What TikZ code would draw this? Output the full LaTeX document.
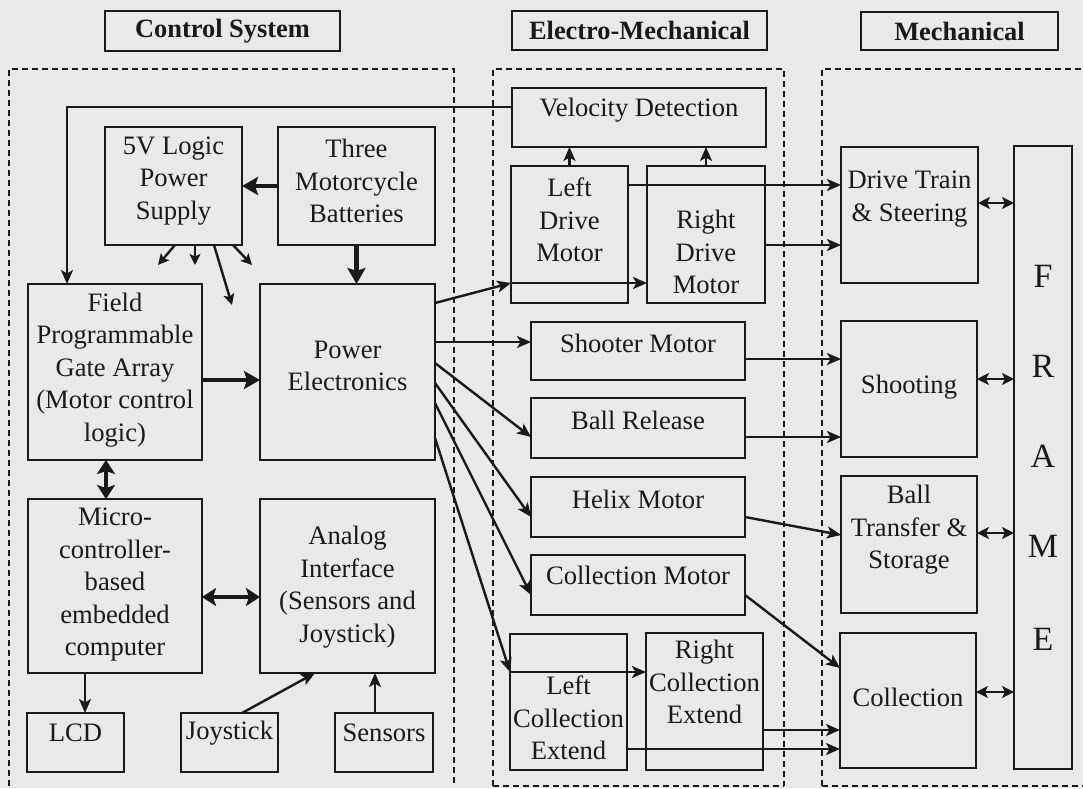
\documentclass[tikz,border=0pt]{standalone}
\usepackage{fontspec}
\setmainfont{Liberation Serif}
\usetikzlibrary{arrows.meta}
\definecolor{paper}{RGB}{233,233,233}
\definecolor{ink}{RGB}{25,25,25}
\newcommand\blk[5]{%
  \pgfmathsetmacro\bw{#4-#2}\pgfmathsetmacro\bh{#5-#3}%
  \node[box, minimum width=\bw pt, minimum height=\bh pt, anchor=north west] (#1) at (#2,#3) {};}
\begin{document}
\begin{tikzpicture}[x=1pt,y=-1pt, color=ink,
  box/.style={draw=ink, line width=2.6pt, rectangle, inner sep=0pt, outer sep=0pt},
  txt/.style={align=center, inner sep=0pt, text=ink, yshift=-2pt, font=\fontsize{26.6}{32.5}\selectfont},
  ttl/.style={draw=ink, line width=2.6pt, inner sep=0pt, text=ink, font=\fontsize{26.4}{32}\selectfont\bfseries},
  big/.style={inner sep=0pt, text=ink, anchor=base, font=\fontsize{34}{40}\selectfont},
  region/.style={draw=ink, line width=1.5pt, dash pattern=on 6pt off 4pt},
  arr/.style={draw=ink, line width=2.4pt, -{Stealth[length=14pt,width=12pt,inset=3.5pt]}},
  darr/.style={draw=ink, line width=2.4pt, {Stealth[length=12pt,width=12pt,inset=3pt]}-{Stealth[length=12pt,width=12pt,inset=3pt]}},
  sarr/.style={draw=ink, line width=2.4pt, -{Stealth[length=11pt,width=11pt,inset=2.5pt]}},
  fat/.style={draw=ink, line width=4.8pt, -{Stealth[length=16pt,width=18pt,inset=3pt]}},
  fatd/.style={draw=ink, line width=4.8pt, {Stealth[length=14pt,width=18pt,inset=3pt]}-{Stealth[length=14pt,width=18pt,inset=3pt]}}
]
\fill[paper] (0,0) rectangle (1083,788);
\useasboundingbox (0,0) rectangle (1083,788);

% titles
\node[ttl, minimum width=235pt, minimum height=40pt] (tCS) at (222.5,31) {Control System};
\node[ttl, minimum width=255pt, minimum height=39pt] (tEM) at (639.5,30.5) {Electro-Mechanical};
\node[ttl, minimum width=197pt, minimum height=38pt] (tM) at (959.5,31) {Mechanical};

% regions
\draw[region] (9,786) -- (9,69) -- (454,69) -- (454,786);
\draw[region] (493,786) -- (493,69) -- (784,69) -- (784,786);
\draw[region] (493,786) -- (784,786);
\draw[region] (822,786) -- (822,69) -- (1095,69);
\draw[region] (822,786) -- (1095,786);

% control system blocks
\blk{PS5}{105}{127}{242}{245}
\blk{TMB}{278}{127}{435}{245}
\blk{FPGA}{28}{284}{202}{460}
\blk{PE}{260}{284}{435}{460}
\blk{MC}{28}{499}{202}{673}
\blk{AI}{260}{499}{435}{673}
\blk{LCD}{27}{713}{124}{772}
\blk{JOY}{181}{713}{278}{772}
\blk{SEN}{335}{713}{433}{772}
\node[txt] (PS5t) at (173.5,179) {5V Logic\\Power\\Supply};
\node[txt] (TMBt) at (356.5,179) {Three\\Motorcycle\\Batteries};
\node[txt] (FPGAt) at (115,368) {Field\\Programmable\\Gate Array\\(Motor control\\logic)};
\node[txt] (PEt) at (347.5,364) {Power\\Electronics};
\node[txt] (MCt) at (115,583) {Micro-\\controller-\\based\\embedded\\computer};
\node[txt] (AIt) at (347.5,585) {Analog\\Interface\\(Sensors and\\Joystick)};
\node[txt] (LCDt) at (75.5,731) {LCD};
\node[txt] (JOYt) at (229.5,731) {Joystick};
\node[txt] (SENt) at (384,731) {Sensors};

% electro-mechanical blocks
\blk{VD}{512}{88}{766}{147}
\blk{LDM}{511}{166}{628}{303}
\blk{RDM}{647}{166}{765}{303}
\blk{SM}{531}{322}{745}{380}
\blk{BR}{531}{398}{745}{458}
\blk{HM}{531}{477}{745}{537}
\blk{CM}{531}{555}{745}{615}
\blk{LCE}{510}{634}{627}{770}
\blk{RCE}{646}{633}{763}{770}
\node[txt] (VDt) at (639,108) {Velocity Detection};
\node[txt] (LDMt) at (569.5,218) {Left\\Drive\\Motor};
\node[txt] (RDMt) at (706,250) {Right\\Drive\\Motor};
\node[txt] (SMt) at (638,341) {Shooter Motor};
\node[txt] (BRt) at (638,418) {Ball Release};
\node[txt] (HMt) at (638,497) {Helix Motor};
\node[txt] (CMt) at (638,573) {Collection Motor};
\node[txt] (LCEt) at (568.5,716) {Left\\Collection\\Extend};
\node[txt] (RCEt) at (704.5,680) {Right\\Collection\\Extend};

% mechanical blocks
\blk{DTS}{841}{147}{978}{283}
\blk{SH}{841}{321}{977}{457}
\blk{BTS}{841}{476}{977}{613}
\blk{COL}{840}{633}{976}{768}
\blk{FRAME}{1014}{146}{1072}{769}
\node[txt] (DTSt) at (909.5,197) {Drive Train\\\& Steering};
\node[txt] (SHt) at (909,385) {Shooting};
\node[txt] (BTSt) at (909,528) {Ball\\Transfer \&\\Storage};
\node[txt] (COLt) at (908,695) {Collection};
\node[big] (fF) at (1043,287) {F};
\node[big] (fR) at (1043,377) {R};
\node[big] (fA) at (1043,467) {A};
\node[big] (fM) at (1043,557) {M};
\node[big] (fE) at (1043,650) {E};

% free ends of the 5V supply arrows
\coordinate (p1) at (158,265);
\coordinate (p2) at (195,265);
\coordinate (p3) at (232,305);
\coordinate (p4) at (252,265);
\draw[sarr] ([xshift=70pt]PS5.south west) -- (p1);
\draw[sarr] ([xshift=90pt]PS5.south west) -- (p2);
\draw[sarr] ([xshift=109pt]PS5.south west) -- (p3);
\draw[sarr] ([xshift=128pt]PS5.south west) -- (p4);

% control connectors
\draw[fat] (TMB.west) -- (PS5.east);
\draw[fat] (TMB.south) -- (TMB.south |- PE.north);
\draw[fat] (FPGA.east |- 0,380) -- (PE.west |- 0,380);
\draw[fatd] (FPGA.south -| 106,0) -- (MC.north -| 106,0);
\draw[fatd] (MC.east |- 0,597) -- (AI.west |- 0,597);
\draw[arr] (MC.south -| 85,0) -- (LCD.north -| 85,0);
\draw[arr] (JOY.north -| 242,0) -- (AI.south -| 315,0);
\draw[arr] (SEN.north -| 375,0) -- (AI.south -| 375,0);
\draw[arr] (VD.west |- 0,107) -| (FPGA.north -| 67,0);

% power electronics outputs
\draw[arr] (PE.east |- 0,303) -- (LDM.west |- 0,283);
\draw[arr] (LDM.west |- 0,283) -- (RDM.west |- 0,283);
\draw[arr] (PE.east |- 0,342) -- (SM.west |- 0,342);
\draw[arr] (PE.east |- 0,363) -- (BR.west |- 0,437);
\draw[arr] (PE.east |- 0,383) -- (HM.west |- 0,517);
\draw[arr] (PE.east |- 0,403) -- (CM.west |- 0,595);
\draw[arr] (PE.east |- 0,438) -- (LCE.west |- 0,672);
\draw[arr] (LCE.west |- 0,672) -- (RCE.west |- 0,672);

% velocity detection
\draw[arr] (LDM.north) -- (LDM.north |- VD.south);
\draw[arr] (RDM.north) -- (RDM.north |- VD.south);

% to mechanical
\draw[arr] (LDM.east |- 0,185) -- (DTS.west |- 0,185);
\draw[arr] (RDM.east |- 0,245) -- (DTS.west |- 0,245);
\draw[arr] (SM.east |- 0,359) -- (SH.west |- 0,359);
\draw[arr] (BR.east |- 0,437) -- (SH.west |- 0,437);
\draw[arr] (HM.east |- 0,517) -- (BTS.west |- 0,535);
\draw[arr] (CM.east |- 0,595) -- (COL.west |- 0,668);
\draw[arr] (RCE.east |- 0,730) -- (COL.west |- 0,730);
\draw[arr] (LCE.east |- 0,749) -- (COL.west |- 0,749);

% to frame
\draw[darr] (DTS.east |- 0,203) -- (FRAME.west |- 0,203);
\draw[darr] (SH.east |- 0,379) -- (FRAME.west |- 0,379);
\draw[darr] (BTS.east |- 0,533) -- (FRAME.west |- 0,533);
\draw[darr] (COL.east |- 0,692) -- (FRAME.west |- 0,692);
\end{tikzpicture}
\end{document}
